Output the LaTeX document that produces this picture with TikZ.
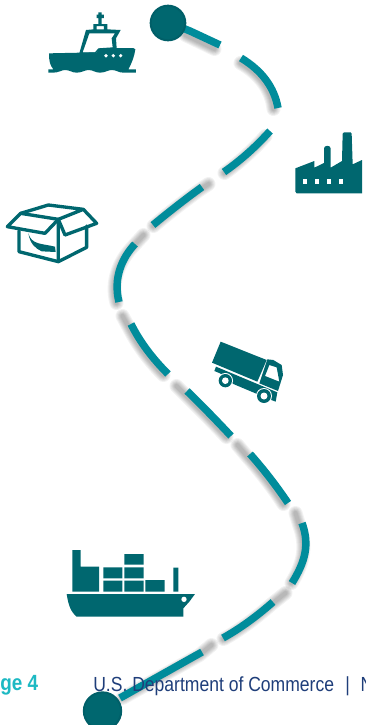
\documentclass[tikz,border=0pt]{standalone}
\usepackage{fontspec}
\setmainfont{Liberation Sans}
\newfontfamily\footfont[FakeStretch=0.86]{Liberation Sans}
\definecolor{icon}{HTML}{00676F}
\definecolor{route}{HTML}{008C9B}
\definecolor{ring}{HTML}{005F68}
\definecolor{footblue}{HTML}{1F3E7A}
\definecolor{pageteal}{HTML}{1DB9C3}
\tikzset{
  routeseg/.style={route,line width=5.6pt,line cap=butt},
  softstroke/.style={black,opacity=.05,line cap=round,line join=round},
  iconfill/.style={fill=icon,draw=none},
  hole/.style={fill=white,draw=none},
  boxline/.style={icon,line width=2.5pt,line join=round,line cap=round},
  endpoint/.style={circle,fill=icon,draw=ring,line width=1.5pt,inner sep=0pt},
  foot/.style={anchor=base west,inner sep=0pt,font=\footfont\fontsize{15.3}{18}\selectfont},
}
\newcommand\softpath[1]{\foreach \wd in {14,12,10,8,6,4}{\draw[softstroke,line width=\wd*0.75pt,shift={(-2.5,3)}] #1;}}
\newcommand\routepiece[1]{\draw[routeseg] #1;}
\begin{document}
\begin{tikzpicture}[x=0.75pt,y=-0.75pt]
\useasboundingbox (0,0) rectangle (366,725);
\fill[white] (0,0) rectangle (366,725);
% soft shadows
\softpath{(188,32) -- (217,46)}
\softpath{(243,60) .. controls (262,70.7) and (274.3,87.3) .. (276,106)}
\softpath{(268,133) .. controls (256,146.7) and (240.7,160.3) .. (227,170)}
\softpath{(211,181) -- (202,187) .. controls (186.3,198.3) and (170,211) .. (156,223)}
\softpath{(146,232) -- (135,244) .. controls (122,258) and (113,278) .. (119,300)}
\softpath{(125,313) -- (131,324) .. controls (140,342) and (152.3,358.3) .. (166,372)}
\softpath{(179,383) -- (187,391) .. controls (201.7,405.3) and (216.3,420.3) .. (229,434)}
\softpath{(240,442) -- (250,454) .. controls (264,469.7) and (276.7,486.3) .. (286,501)}
\softpath{(298,510) -- (302,523) .. controls (310,545) and (305,562) .. (294,580)}
\softpath{(288,590) -- (273,602) .. controls (256.3,616.7) and (239.7,628.7) .. (226,636)}
\softpath{(214,642) -- (202,652) -- (125,695)}
% route
\routepiece{(170,23) -- (190,31) -- (220,45)}
\routepiece{(241,58) .. controls (262,70.7) and (274.3,87.3) .. (278,108)}
\routepiece{(270,131) .. controls (256,146.7) and (240.7,160.3) .. (224,172)}
\routepiece{(202,187) .. controls (186.3,198.3) and (170,211) .. (153,225)}
\routepiece{(135,244) .. controls (122,258) and (113,278) .. (119,302)}
\routepiece{(131,324) .. controls (140,342) and (152.3,358.3) .. (168,374)}
\routepiece{(187,391) .. controls (201.7,405.3) and (216.3,420.3) .. (231,436)}
\routepiece{(250,454) .. controls (264,469.7) and (276.7,486.3) .. (288,503)}
\routepiece{(302,523) .. controls (310,545) and (305,562) .. (292,583)}
\routepiece{(273,602) .. controls (256.3,616.7) and (239.7,628.7) .. (223,638)}
\routepiece{(202,652) -- (120,698)}
% end points
\node[endpoint,minimum size=26pt] (start) at (168,23) {};
\node[endpoint,minimum size=28pt] (finish) at (102.5,711) {};
% tug boat
\begin{scope}[scale=1/3]
\fill[iconfill] (147,160) .. controls (147,185) and (150,195) .. (160,208) -- (145,208) -- (145,218) -- (160,218)
  .. controls (175,218) and (185,210) .. (195,210) .. controls (210,210) and (215,218) .. (230,218)
  .. controls (245,218) and (255,210) .. (265,210) .. controls (280,210) and (285,218) .. (300,218)
  .. controls (315,218) and (325,210) .. (335,210) .. controls (350,210) and (355,218) .. (370,218)
  -- (408,218) -- (408,208) -- (385,208) .. controls (395,190) and (403,170) .. (406,148) -- (400,144) -- (300,145) -- (290,157) -- cycle;
\fill[iconfill,even odd rule] (238,160) -- (258,90) -- (280,88) -- (280,72) -- (322,72) -- (322,88) -- (362,90) -- (348,115) -- (350,145) -- (300,150) -- (285,160) -- cycle
  (248,157) -- (268,100) -- (345,100) -- (335,115) -- (338,142) -- (295,145) -- (285,157) -- cycle
  (290,78) -- (312,78) -- (312,88) -- (290,88) -- cycle;
\fill[iconfill] (295,37) rectangle (305,72) (290,44) rectangle (312,54);
\foreach \hx in {318,340,362} \fill[hole] (\hx,167) circle (5.5);
\end{scope}
% factory
\begin{scope}[shift={(286,125)},scale=1/3]
\fill[iconfill] (28,130) -- (85,108) -- (85,128) -- (114,114) -- (114,70) .. controls (114,60) and (134,60) .. (134,70) -- (134,128) -- (168,108) -- (170,26) -- (174,22) -- (194,22) -- (197,26) -- (200,118) -- (228,105) -- (228,205) -- (32,205) -- (28,200) -- cycle;
\foreach \wx in {50,86,122,158} \fill[hole] (\wx,162) rectangle ++(12,16);
\end{scope}
% open box
\begin{scope}[shift={(0,190)},scale=1/3]
\draw[boxline] (175,88) -- (195,135) -- (290,100) -- (250,58) -- (145,45) -- (62,70) -- (22,110) -- (135,130) -- (175,88) -- (250,58);
\draw[boxline] (62,70) -- (175,88) -- (175,215);
\draw[boxline] (57,122) -- (57,185) -- (175,215) -- (260,172) -- (260,108);
\fill[iconfill] (85,130) .. controls (95,165) and (125,160) .. (165,170) -- (167,186) -- (125,184) .. controls (105,175) and (90,160) .. cycle;
\end{scope}
% truck
\begin{scope}[shift={(170,320)},scale=1/3]
\fill[iconfill] (152,65) -- (290,120) -- (262,185) -- (126,128) -- cycle;
\fill[iconfill,even odd rule] (292,118) -- (310,120) -- (335,135) -- (339,165) -- (324,213) -- (268,190) -- cycle
  (298,135) -- (320,142) -- (328,185) -- (285,168) -- cycle;
\fill[iconfill] (138,140) -- (322,217) -- (317,245) -- (304,240) -- (190,192) -- (150,160) -- (133,153) -- cycle;
\foreach \cx/\cy/\cr in {166/182/20,282/228/21} {
  \fill[hole] (\cx,\cy) circle ({\cr+3});
  \fill[iconfill] (\cx,\cy) circle (\cr);
  \fill[hole] (\cx,\cy) circle ({\cr/2});
}
\end{scope}
% container ship
\begin{scope}[shift={(50,530)},scale=1/3]
\fill[iconfill] (50,192) -- (435,192) -- (418,215) -- (400,235) -- (400,260) -- (80,260) .. controls (62,245) and (55,225) .. cycle;
\fill[hole] (402,208) circle (8);
\fill[iconfill] (67,60) -- (92,60) -- (92,110) -- (147,110) -- (147,185) -- (67,185) -- cycle;
\fill[iconfill] (160,112) rectangle (217,145) (160,152) rectangle (217,185)
  (223,72) rectangle (281,104) (223,112) rectangle (281,145) (223,152) rectangle (281,185)
  (286,150) rectangle (344,185) (370,113) rectangle (385,185);
\end{scope}
% footer
\node[foot,text=pageteal,font=\footfont\bfseries\fontsize{16.5}{20}\selectfont] (pagelabel) at (0,690) {ge 4};
\node[foot,text=footblue] (deptlabel) at (93,691) {U.S. Department of Commerce\hspace{8.5pt}|\hspace{8pt}N};
\end{tikzpicture}
\end{document}
